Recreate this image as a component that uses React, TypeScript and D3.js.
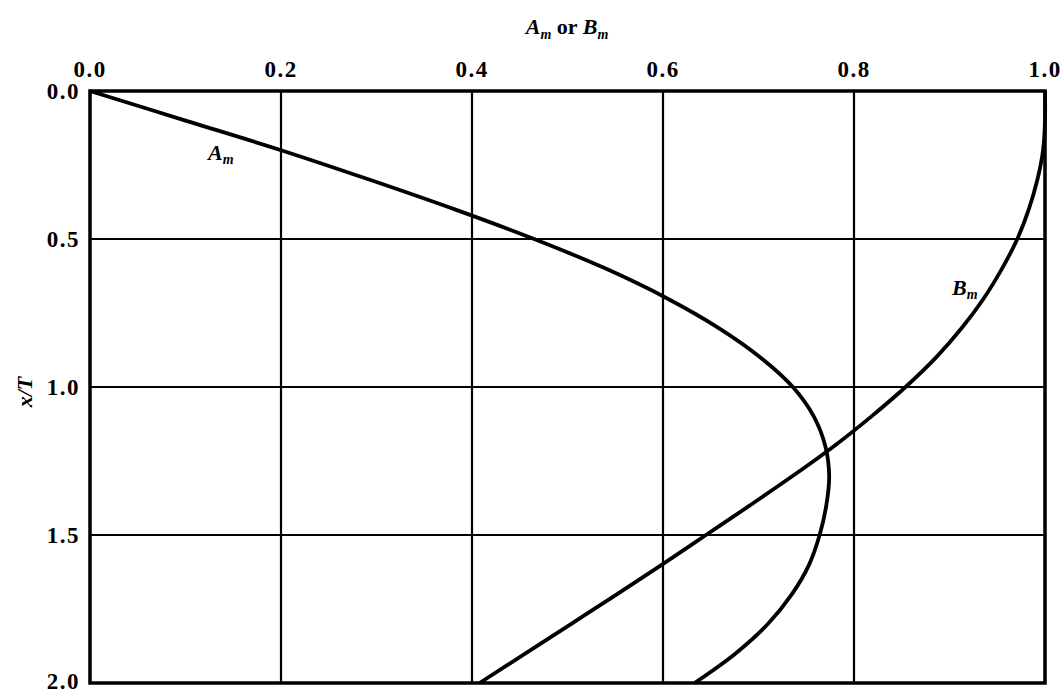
import React from "react";
import * as d3 from "d3";

const depthTicks = [0, 0.5, 1.0, 1.5, 2.0];
const coefTicks = [0, 0.2, 0.4, 0.6, 0.8, 1.0];
const depths = [0, 0.1, 0.2, 0.3, 0.4, 0.5, 0.6, 0.7, 0.8, 0.9, 1.0, 1.1, 1.2, 1.3, 1.4, 1.5, 1.6, 1.7, 1.8, 1.9, 2.0];
const amValues = [0, 0.1, 0.2, 0.293, 0.382, 0.465, 0.54, 0.604, 0.658, 0.702, 0.736, 0.758, 0.77, 0.774, 0.771, 0.764, 0.753, 0.735, 0.71, 0.676, 0.633];
const bmValues = [1.0, 1.0, 0.998, 0.992, 0.983, 0.971, 0.955, 0.936, 0.913, 0.886, 0.854, 0.818, 0.779, 0.736, 0.691, 0.645, 0.599, 0.552, 0.504, 0.456, 0.408];

const W = 1061;
const H = 693;
const L = 90, R = 1045, T = 91, B = 683;

export default function App() {
  const x = d3.scaleLinear().domain([0, 1]).range([L, R]);
  const y = d3.scaleLinear().domain([0, 2]).range([T, B]);
  const line = d3
    .line<[number, number]>()
    .x((d) => x(d[0]))
    .y((d) => y(d[1]))
    .curve(d3.curveCatmullRom.alpha(0.5));
  const am = line(depths.map((z, i) => [amValues[i], z] as [number, number])) || "";
  const bm = line(depths.map((z, i) => [bmValues[i], z] as [number, number])) || "";
  const font = "'Liberation Serif', 'Times New Roman', serif";
  return (
    <svg width={W} height={H} style={{ position: "absolute", left: 0, top: 0, background: "#fff" }} fontFamily={font}>
      <rect x={0} y={0} width={W} height={H} fill="#fff" />
      {coefTicks.map((t) => (
        <line key={"gx" + t} x1={x(t)} x2={x(t)} y1={T} y2={B} stroke="#000" strokeWidth={2.2} />
      ))}
      {depthTicks.map((t) => (
        <line key={"gy" + t} x1={L} x2={R} y1={y(t)} y2={y(t)} stroke="#000" strokeWidth={2.2} />
      ))}
      <rect x={L} y={T} width={R - L} height={B - T} fill="none" stroke="#000" strokeWidth={3.5} />
      <path d={am} fill="none" stroke="#000" strokeWidth={3.8} />
      <path d={bm} fill="none" stroke="#000" strokeWidth={3.8} />
      {coefTicks.map((t) => (
        <text key={"tx" + t} x={x(t)} y={77} textAnchor="middle" fontSize={23} fontWeight="bold" letterSpacing={1.5}>
          {d3.format(".1f")(t)}
        </text>
      ))}
      {depthTicks.map((t) => (
        <text key={"ty" + t} x={80} y={Math.min(y(t) + 8, 689)} textAnchor="end" fontSize={23} fontWeight="bold" letterSpacing={1.5}>
          {d3.format(".1f")(t)}
        </text>
      ))}
      <text x={567} y={34} textAnchor="middle" fontSize={22} fontWeight="bold">
        <tspan fontStyle="italic">A</tspan>
        <tspan fontStyle="italic" fontSize={14} dy={5}>m</tspan>
        <tspan dy={-5}> or </tspan>
        <tspan fontStyle="italic">B</tspan>
        <tspan fontStyle="italic" fontSize={14} dy={5}>m</tspan>
      </text>
      <text transform="translate(32,392) rotate(-90)" textAnchor="middle" fontSize={22} fontWeight="bold" fontStyle="italic">
        x/T
      </text>
      <text x={208} y={160} fontSize={22} fontWeight="bold">
        <tspan fontStyle="italic">A</tspan>
        <tspan fontStyle="italic" fontSize={14} dy={4}>m</tspan>
      </text>
      <text x={952} y={295} fontSize={22} fontWeight="bold">
        <tspan fontStyle="italic">B</tspan>
        <tspan fontStyle="italic" fontSize={14} dy={4}>m</tspan>
      </text>
    </svg>
  );
}
